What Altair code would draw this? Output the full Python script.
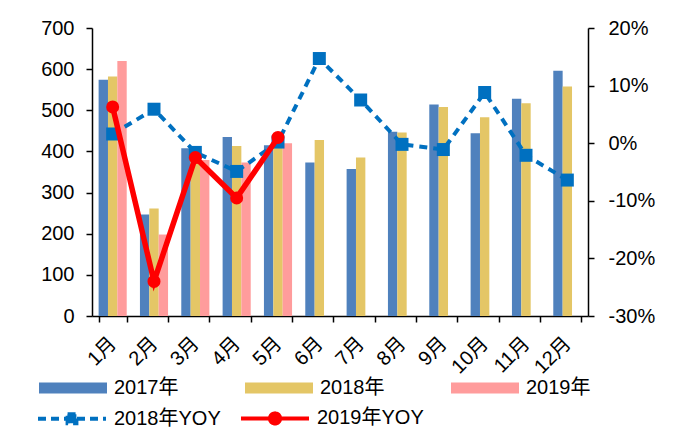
import altair as alt
import pandas as pd

months = ["1月", "2月", "3月", "4月", "5月", "6月", "7月", "8月", "9月", "10月", "11月", "12月"]
years = ["2017年", "2018年", "2019年"]
sales_2017 = [574, 247, 408, 435, 415, 373, 357, 448, 514, 444, 528, 596]
sales_2018 = [582, 261, 401, 413, 416, 428, 385, 446, 508, 483, 517, 558]
sales_2019 = [620, 198, 379, 373, 420]
series = ["2018年YOY", "2019年YOY"]
yoy_2018 = [1.6, 5.9, -1.6, -4.9, 0.2, 14.7, 7.5, -0.2, -1.1, 8.8, -2.1, -6.4]
yoy_2019 = [6.3, -24.0, -2.5, -9.5, 1.0]

bar_colors = ["#4F81BD", "#E4C666", "#FF9C9C"]
line_colors = ["#0070C0", "#FF0000"]
FONT = "Liberation Sans, Arial, Noto Sans CJK SC, sans-serif"

rows = []
for yr, vals in zip(years, [sales_2017, sales_2018, sales_2019]):
    for m, v in zip(months, vals):
        rows.append({"month": m, "year": yr, "value": v})
bars_df = pd.DataFrame(rows)

yrows = []
for s, vals in zip(series, [yoy_2018, yoy_2019]):
    for m, v in zip(months, vals):
        yrows.append({"month": m, "series": s, "yoy": v / 100.0})
yoy_df = pd.DataFrame(yrows)
y18 = yoy_df[yoy_df.series == series[0]]
y19 = yoy_df[yoy_df.series == series[1]]

x_enc = alt.X(
    "month:N",
    sort=months,
    scale=alt.Scale(domain=months, paddingInner=0.32, paddingOuter=0.16),
    axis=alt.Axis(title=None, labelAngle=-45, tickBand="extent", tickSize=6,
                  labelPadding=11, labelOffset=-7, labelFontSize=20),
)

bar_legend = alt.Legend(
    title=None, orient="none", legendX=-53, legendY=326, direction="horizontal",
    columns=3, columnPadding=66, symbolType="M-1,-0.16H1V0.16H-1Z", symbolSize=4624,
    symbolStrokeWidth=0, labelFontSize=20, labelFont=FONT, labelOffset=7,
    labelColor="#000000", padding=0, symbolOpacity=1,
)

bars = alt.Chart(bars_df).mark_bar(opacity=1).encode(
    x=x_enc,
    xOffset=alt.XOffset("year:N", scale=alt.Scale(domain=years, paddingInner=0, paddingOuter=0)),
    y=alt.Y("value:Q", scale=alt.Scale(domain=[0, 700], nice=False),
            axis=alt.Axis(title=None, orient="left", values=list(range(0, 701, 100)),
                          tickSize=6, labelPadding=12)),
    color=alt.Color("year:N", scale=alt.Scale(domain=years, range=bar_colors), legend=bar_legend),
)

y_right = alt.Y(
    "yoy:Q",
    scale=alt.Scale(domain=[-0.3, 0.2], nice=False),
    axis=alt.Axis(title=None, orient="right", values=[-0.3, -0.2, -0.1, 0, 0.1, 0.2],
                  labelExpr="'' + round(datum.value * 100) + '%'", tickSize=6, labelPadding=14),
)

line18 = alt.Chart(y18).mark_line(color=line_colors[0], strokeWidth=4, strokeDash=[8, 6]).encode(
    x=x_enc, y=y_right)
pts18 = alt.Chart(y18).mark_point(shape="square", filled=True, size=169, color=line_colors[0], opacity=1).encode(
    x=x_enc, y=y_right)
line19 = alt.Chart(y19).mark_line(color=line_colors[1], strokeWidth=5.5).encode(
    x=x_enc, y=y_right)
pts19 = alt.Chart(y19).mark_point(shape="circle", filled=True, size=170, color=line_colors[1], opacity=1).encode(
    x=x_enc, y=y_right)

sq_path = "M-1,0H1M-0.13,-0.13H0.13V0.13H-0.13Z"
r = 0.15
k = 0.0828
ci_path = ("M-1,0H1M{r},0C{r},{k} {k},{r} 0,{r}C-{k},{r} -{r},{k} -{r},0"
           "C-{r},-{k} -{k},-{r} 0,-{r}C{k},-{r} {r},-{k} {r},0Z").format(r=r, k=k)

line_legend = alt.Legend(
    title=None, orient="none", legendX=-56, legendY=354, direction="horizontal",
    columns=2, columnPadding=12, symbolSize=4624, symbolStrokeWidth=4,
    labelFontSize=20, labelFont=FONT, labelOffset=6, labelColor="#000000",
    padding=0, symbolOpacity=1,
)

legend_layer = alt.Chart(yoy_df).transform_filter("false").mark_point(
    filled=True, size=4624, strokeWidth=4, opacity=1
).encode(
    x=x_enc, y=y_right,
    fill=alt.Fill("series:N", scale=alt.Scale(domain=series, range=line_colors), legend=line_legend),
    stroke=alt.Stroke("series:N", scale=alt.Scale(domain=series, range=line_colors), legend=line_legend),
    shape=alt.Shape("series:N", scale=alt.Scale(domain=series, range=[sq_path, ci_path]), legend=line_legend),
    strokeDash=alt.StrokeDash("series:N", scale=alt.Scale(domain=series, range=[[8, 5], [1, 0]]), legend=line_legend),
)

lines = alt.layer(line18, pts18, line19, pts19, legend_layer)

chart = alt.layer(bars, lines).resolve_scale(y="independent").properties(
    width=496, height=288,
    autosize=alt.AutoSizeParams(type="none"),
    padding={"left": 84, "top": 20, "right": 76, "bottom": 116},
).configure_view(stroke=None).configure_axis(
    labelFont=FONT, labelFontSize=20, labelColor="#000000",
    domainColor="#000000", tickColor="#000000", domainWidth=1.5, tickWidth=1.5, grid=False,
)

chart.save("out.html", embed_options={"renderer": "svg", "actions": False})
